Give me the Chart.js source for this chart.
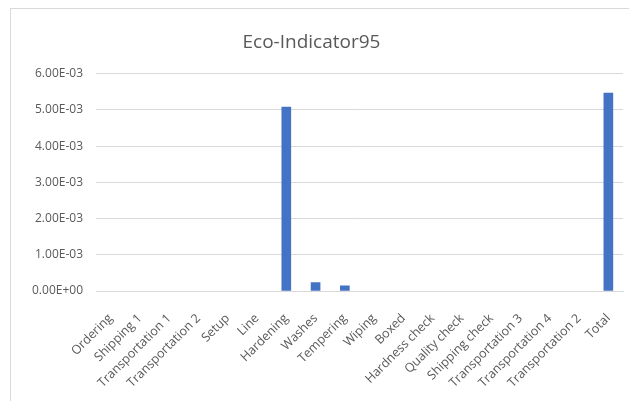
<!DOCTYPE html>
<html>
<head>
<meta charset="utf-8">
<script src="https://cdn.jsdelivr.net/npm/chart.js@4"></script>
<style>
  html, body { margin: 0; padding: 0; background: #fff; }
  #wrap { position: relative; width: 629px; height: 401px; overflow: hidden; }
  #frame { position: absolute; left: 10px; top: 8px; width: 640px; height: 420px; border: 1px solid #d9d9d9; box-sizing: border-box; }
  canvas { position: absolute; left: 0; top: 0; }
</style>
</head>
<body>
<div id="wrap">
  <div id="frame"></div>
  <canvas id="c" width="629" height="401"></canvas>
</div>
<script>
const categories = ["Ordering", "Shipping 1", "Transportation 1", "Transportation 2", "Setup", "Line", "Hardening", "Washes", "Tempering", "Wiping", "Boxed", "Hardness check", "Quality check", "Shipping check", "Transportation 3", "Transportation 4", "Transportation 2", "Total"];
const ecoIndicator = [0, 0, 0, 0, 0, 0, 0.00508, 0.00023, 0.00014, 0, 0, 0, 0, 0, 0, 0, 0, 0.00547];
const chartTitle = "Eco-Indicator95";
const yTicks = [0, 0.001, 0.002, 0.003, 0.004, 0.005, 0.006];

function fmtExp(v) {
  const s = Number(v).toExponential(2);
  const m = s.match(/^(-?[\d.]+)e([+-])(\d+)$/);
  if (!m) return s;
  return m[1] + 'E' + m[2] + m[3].padStart(2, '0');
}

new Chart(document.getElementById('c'), {
  type: 'bar',
  data: {
    labels: categories,
    datasets: [{
      label: chartTitle,
      data: ecoIndicator,
      backgroundColor: ctx => (ctx.raw ? '#4472C4' : 'rgba(0,0,0,0)'),
      barThickness: 9
    }]
  },
  options: {
    responsive: false,
    animation: false,
    devicePixelRatio: 1,
    layout: { padding: { top: 0, right: 6, bottom: 0, left: 0 } },
    plugins: {
      legend: { display: false },
      tooltip: { enabled: false },
      title: {
        display: true,
        text: chartTitle,
        color: '#595959',
        font: { family: 'Open Sans', size: 19, weight: 'normal' },
        padding: { top: 31, bottom: 20 }
      }
    },
    scales: {
      x: {
        grid: { display: false },
        border: { display: true, color: '#d9d9d9' },
        ticks: {
          color: '#595959',
          font: { family: 'Open Sans', size: 12.5 },
          minRotation: 45,
          maxRotation: 45,
          autoSkip: false,
          padding: 12
        },
        afterFit: s => { s.height = 110; s.paddingLeft = 0; s.paddingRight = 0; }
      },
      y: {
        min: 0,
        max: 0.006,
        afterBuildTicks: s => { s.ticks = yTicks.map(v => ({ value: v })); },
        grid: { color: '#d9d9d9', drawTicks: false },
        border: { display: false },
        ticks: {
          color: '#595959',
          font: { family: 'Open Sans', size: 12 },
          padding: 13,
          callback: v => fmtExp(v)
        },
        afterFit: s => { s.width = 96; }
      }
    }
  }
});
</script>
</body>
</html>
